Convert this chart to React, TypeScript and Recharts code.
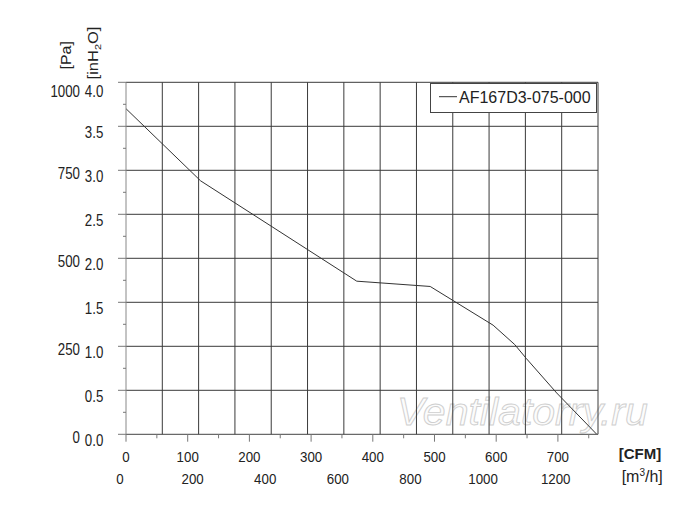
import React from 'react';
import { LineChart, Line, XAxis, YAxis, CartesianGrid, Legend, Customized, ReferenceLine } from 'recharts';

const FAN_NAME = 'AF167D3-075-000';
const airflowCfm = [0, 121, 374, 493, 595, 630, 649, 698, 763];
const pressureInH2O = [3.7, 2.88, 1.74, 1.68, 1.24, 1.02, 0.86, 0.47, 0];

const CFM_TO_M3H = 1.699;
const cfmTicks = [0, 50, 100, 150, 200, 250, 300, 350, 400, 450, 500, 550, 600, 650, 700, 750];
const m3hTicks = [0, 200, 400, 600, 800, 1000, 1200];
const m3hGrid = [100, 200, 300, 400, 500, 600, 700, 800, 900, 1000, 1100, 1200, 1300];
const inH2OTicks = [0, 0.25, 0.5, 0.75, 1, 1.25, 1.5, 1.75, 2, 2.25, 2.5, 2.75, 3, 3.25, 3.5, 3.75, 4];
const inH2OGrid = [0.5, 1, 1.5, 2, 2.5, 3, 3.5, 4];
const paLabels = ['0', '250', '500', '750', '1000'];

const data = airflowCfm.map((q, i) => ({ cfm: q, m3h: q * CFM_TO_M3H, p: pressureInH2O[i] }));

const FONT = '"Liberation Sans", Arial, sans-serif';
const TXT = '#222';
const GRID = '#3a3a3a';

const isMult = (v: number, step: number) => Math.abs(v / step - Math.round(v / step)) < 1e-6;

const YTick = (props: any) => {
  const { x, y, payload } = props;
  const v = payload.value as number;
  const major = isMult(v, 0.5);
  const integer = isMult(v, 1);
  const top = v === 4;
  return (
    <g>
      <line x1={x - (major ? 8 : 3)} x2={x} y1={y} y2={y} stroke="#777" />
      {major && (
        <text
          transform={`translate(${x - 22.7},${y + (top ? 15 : 11.5)}) scale(0.83,1)`}
          textAnchor="end"
          fontSize={16}
          fontFamily={FONT}
          fill={TXT}
        >
          {v.toFixed(1)}
        </text>
      )}
      {integer && (
        <text
          transform={`translate(${x - 46},${y + (top ? 15 : 8.3)}) scale(0.83,1)`}
          textAnchor="end"
          fontSize={16}
          fontFamily={FONT}
          fill={TXT}
        >
          {paLabels[Math.round(v)]}
        </text>
      )}
    </g>
  );
};

const CfmTick = (props: any) => {
  const { x, y, payload } = props;
  const v = payload.value as number;
  const major = isMult(v, 100);
  return (
    <g>
      <line x1={x} x2={x} y1={y} y2={y + (major ? 7.4 : 4)} stroke="#777" />
      {major && (
        <text
          transform={`translate(${x},${y + 27.4}) scale(0.86,1)`}
          textAnchor="middle"
          fontSize={15.5}
          fontFamily={FONT}
          fill={TXT}
        >
          {v}
        </text>
      )}
    </g>
  );
};

const M3hTick = (props: any) => {
  const { x, y, payload } = props;
  return (
    <text
      transform={`translate(${x - 6},${y + 19.7}) scale(0.86,1)`}
      textAnchor="middle"
      fontSize={15.5}
      fontFamily={FONT}
      fill={TXT}
    >
      {payload.value}
    </text>
  );
};

const LegendBox = (props: any) => {
  const item = (props.payload && props.payload[0]) || { color: '#333', value: FAN_NAME };
  return (
    <svg width={167} height={30} style={{ display: 'block' }}>
      <rect x={0.5} y={0.5} width={166} height={29} fill="#fff" stroke="#444" />
      <line x1={9} x2={27} y1={13.7} y2={13.7} stroke={item.color} strokeWidth={1} />
      <text x={29} y={19.7} fontSize={16} fontFamily={FONT} fill={TXT}>
        {item.value}
      </text>
    </svg>
  );
};

const Titles = () => (
  <g fontFamily={FONT} fill={TXT}>
    <text transform="translate(62.5,47.3) scale(0.9,1) rotate(-90)" textAnchor="middle" fontSize={16}>
      [Pa]
    </text>
    <text transform="translate(90,45) scale(0.9,1) rotate(-90)" textAnchor="middle" fontSize={16.5}>
      [inH
      <tspan dy={3} fontSize={11}>2</tspan>
      <tspan dy={-3}>O]</tspan>
    </text>
    <text x={632} y={450.7} textAnchor="middle" fontSize={15} fontWeight="bold">
      [CFM]
    </text>
    <text x={634.2} y={473.5} textAnchor="middle" fontSize={16}>
      [m<tspan dy={-6} fontSize={10}>3</tspan>
      <tspan dy={6}>/h]</tspan>
    </text>
    <text
      transform="translate(389,417) scale(1.08,1)"
      fontSize={38}
      fontStyle="italic"
      fill="#fafafa"
      fillOpacity={0.5}
      stroke="#cfcfcf"
      strokeWidth={0.9}
    >
      Ventilatorry.ru
    </text>
  </g>
);

export default function App() {
  return (
    <div style={{ width: 684, height: 514 }}>
      <LineChart
        width={684}
        height={514}
        data={data}
        margin={{ top: 74.3, right: 94, left: 0, bottom: 27.7 }}
      >
        <CartesianGrid
          vertical={false}
          horizontalValues={inH2OGrid}
          stroke={GRID}
          strokeWidth={1}
        />
        {m3hGrid.map((v) => (
          <ReferenceLine key={v} xAxisId="m3h" x={v} stroke={GRID} strokeWidth={1} ifOverflow="visible" />
        ))}
        <XAxis
          dataKey="cfm"
          type="number"
          domain={[0, 765]}
          allowDataOverflow
          ticks={cfmTicks}
          interval={0}
          tickSize={0}
          tickMargin={0}
          tickLine={false}
          axisLine={{ stroke: '#444' }}
          height={30}
          tick={(p: any) => <CfmTick {...p} />}
        />
        <XAxis
          xAxisId="m3h"
          dataKey="m3h"
          type="number"
          domain={[0, 1300]}
          allowDataOverflow
          ticks={m3hTicks}
          interval={0}
          tickSize={0}
          tickMargin={0}
          tickLine={false}
          axisLine={false}
          height={30}
          tick={(p: any) => <M3hTick {...p} />}
        />
        <YAxis
          type="number"
          domain={[0, 4]}
          allowDataOverflow
          ticks={inH2OTicks}
          interval={0}
          width={118}
          tickSize={0}
          tickMargin={0}
          tickLine={false}
          axisLine={{ stroke: '#888' }}
          tick={(p: any) => <YTick {...p} />}
        />
        <Legend
          layout="vertical"
          align="center"
          verticalAlign="middle"
          wrapperStyle={{ left: 422, top: 75, width: 167, height: 30 }}
          content={(p: any) => <LegendBox {...p} />}
        />
        <Line
          dataKey="p"
          name={FAN_NAME}
          type="linear"
          stroke="#333"
          strokeWidth={1}
          dot={false}
          isAnimationActive={false}
        />
        <Customized component={Titles} />
      </LineChart>
    </div>
  );
}
